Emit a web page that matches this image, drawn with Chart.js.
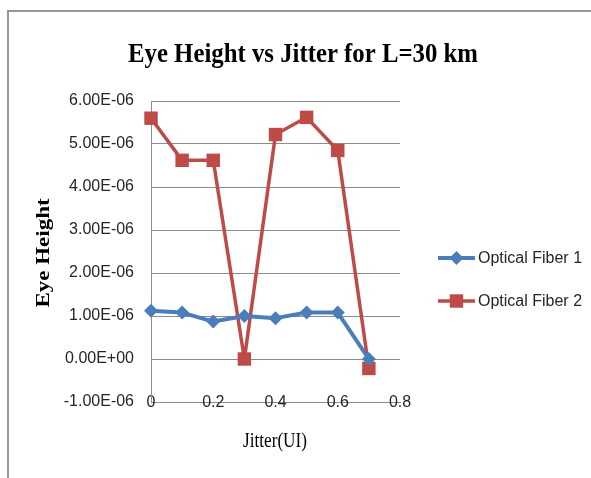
<!DOCTYPE html>
<html>
<head>
<meta charset="utf-8">
<title>Eye Height vs Jitter for L=30 km</title>
<script src="https://cdn.jsdelivr.net/npm/chart.js@4/dist/chart.umd.min.js"></script>
<style>
  html, body { margin: 0; padding: 0; background: #fff; }
  #wrap { width: 591px; height: 478px; }
</style>
</head>
<body>
<div id="wrap"><canvas id="c" width="591" height="478"></canvas></div>
<script>
// Jitter (UI) sample points
const jitter = [0, 0.1, 0.2, 0.3, 0.4, 0.5, 0.6, 0.7];
// Eye height per fiber
const fiber1 = [1.12e-6, 1.08e-6, 0.87e-6, 1.00e-6, 0.95e-6, 1.08e-6, 1.08e-6, 0.0];
const fiber2 = [5.60e-6, 4.62e-6, 4.62e-6, 0.0, 5.22e-6, 5.62e-6, 4.85e-6, -0.22e-6];
const seriesNames = ['Optical Fiber 1', 'Optical Fiber 2'];

// Axis ticks
const yTickValues = [-1e-6, 0, 1e-6, 2e-6, 3e-6, 4e-6, 5e-6, 6e-6];
const yTickLabels = ['-1.00E-06', '0.00E+00', '1.00E-06', '2.00E-06', '3.00E-06', '4.00E-06', '5.00E-06', '6.00E-06'];
const xTickValues = [0, 0.2, 0.4, 0.6, 0.8];
const xTickLabels = ['0', '0.2', '0.4', '0.6', '0.8'];

const chartTitle = 'Eye Height vs Jitter for L=30 km';
const xTitle = 'Jitter(UI)';
const yTitle = 'Eye Height';

const BLUE = '#4A7EBB';
const RED = '#BE4B48';
const GRID = '#8c8c8c';
const TEXT = '#262626';
const SANS = '"Liberation Sans", Arial, sans-serif';
const SERIF = '"Liberation Serif", "Times New Roman", serif';

// Text squeezed along one direction
function drawSqueezed(ctx, text, x, y, font, sx, sy, rotate) {
  ctx.save();
  ctx.translate(x, y);
  if (rotate) ctx.rotate(-Math.PI / 2);
  ctx.scale(sx, sy);
  ctx.font = font;
  ctx.fillStyle = '#000';
  ctx.textAlign = 'center';
  ctx.textBaseline = 'alphabetic';
  ctx.fillText(text, 0, 0);
  ctx.restore();
}

function drawMarker(ctx, style, x, y, r, color) {
  ctx.save();
  ctx.fillStyle = color;
  ctx.beginPath();
  if (style === 'rectRot') {
    ctx.moveTo(x, y - r);
    ctx.lineTo(x + r, y);
    ctx.lineTo(x, y + r);
    ctx.lineTo(x - r, y);
    ctx.closePath();
  } else {
    const s = r * Math.SQRT1_2;
    ctx.rect(x - s, y - s, 2 * s, 2 * s);
  }
  ctx.fill();
  ctx.restore();
}

const decor = {
  id: 'decor',
  beforeDraw(chart) {
    const ctx = chart.ctx;
    ctx.save();
    ctx.fillStyle = '#fff';
    ctx.fillRect(0, 0, chart.width, chart.height);
    // outer frame (top and left edges)
    ctx.strokeStyle = '#999';
    ctx.lineWidth = 2;
    ctx.beginPath();
    ctx.moveTo(8, chart.height);
    ctx.lineTo(8, 11);
    ctx.lineTo(chart.width, 11);
    ctx.stroke();
    ctx.restore();
  },
  afterDraw(chart) {
    const ctx = chart.ctx;
    // chart title
    ctx.save();
    ctx.font = 'bold 28px ' + SERIF;
    const w = ctx.measureText(chartTitle).width;
    ctx.restore();
    drawSqueezed(ctx, chartTitle, 303, 62, 'bold 28px ' + SERIF, 350 / w, 1, false);
    // axis titles
    drawSqueezed(ctx, xTitle, 275, 447, '20px ' + SERIF, 0.86, 1, false);
    drawSqueezed(ctx, yTitle, 49, 253, 'bold 23px ' + SERIF, 1, 0.86, true);

    // legend
    const items = chart.data.datasets;
    const rows = [258, 301];
    items.forEach((ds, i) => {
      const y = rows[i];
      ctx.save();
      ctx.strokeStyle = ds.borderColor;
      ctx.lineWidth = ds.borderWidth;
      ctx.beginPath();
      ctx.moveTo(438, y);
      ctx.lineTo(475, y);
      ctx.stroke();
      ctx.restore();
      drawMarker(ctx, ds.pointStyle, 456.5, y, ds.pointRadius, ds.backgroundColor);
      ctx.save();
      ctx.font = '16px ' + SANS;
      ctx.fillStyle = TEXT;
      ctx.textAlign = 'left';
      ctx.textBaseline = 'middle';
      ctx.fillText(ds.label, 478, y + 1);
      ctx.restore();
    });
  }
};

const toPoints = (vals) => vals.map((v, i) => ({ x: jitter[i], y: v }));

new Chart(document.getElementById('c'), {
  type: 'line',
  data: {
    datasets: [
      {
        label: seriesNames[0],
        data: toPoints(fiber1),
        borderColor: BLUE,
        backgroundColor: BLUE,
        borderWidth: 4,
        borderJoinStyle: 'round',
        pointStyle: 'rectRot',
        pointRadius: 7,
        pointBorderWidth: 0,
        tension: 0,
        clip: false
      },
      {
        label: seriesNames[1],
        data: toPoints(fiber2),
        borderColor: RED,
        backgroundColor: RED,
        borderWidth: 3.5,
        borderJoinStyle: 'round',
        pointStyle: 'rect',
        pointRadius: 9.5,
        pointBorderWidth: 0,
        tension: 0,
        clip: false
      }
    ]
  },
  options: {
    responsive: false,
    devicePixelRatio: 1,
    animation: false,
    layout: { padding: { left: 0, top: 101, right: 191, bottom: 76 } },
    plugins: {
      legend: { display: false },
      title: { display: false },
      tooltip: { enabled: false }
    },
    scales: {
      x: {
        type: 'linear',
        min: 0,
        max: 0.8,
        afterFit: (s) => { s.height = 0; },
        afterBuildTicks: (s) => { s.ticks = xTickValues.map(v => ({ value: v })); },
        grid: { display: false, drawTicks: false },
        border: { display: true, color: GRID, width: 1 },
        ticks: {
          mirror: true,
          padding: -10,
          color: TEXT,
          font: { family: SANS, size: 16 },
          maxRotation: 0,
          autoSkip: false,
          callback: (v, i) => xTickLabels[i]
        }
      },
      y: {
        type: 'linear',
        min: -1e-6,
        max: 6e-6,
        afterFit: (s) => { s.width = 151; },
        afterBuildTicks: (s) => { s.ticks = yTickValues.map(v => ({ value: v })); },
        grid: { color: GRID, lineWidth: 1, drawTicks: false },
        border: { display: true, color: GRID, width: 1 },
        ticks: {
          padding: 17,
          color: TEXT,
          font: { family: SANS, size: 16 },
          callback: (v, i) => yTickLabels[i]
        }
      }
    }
  },
  plugins: [decor]
});
</script>
</body>
</html>
